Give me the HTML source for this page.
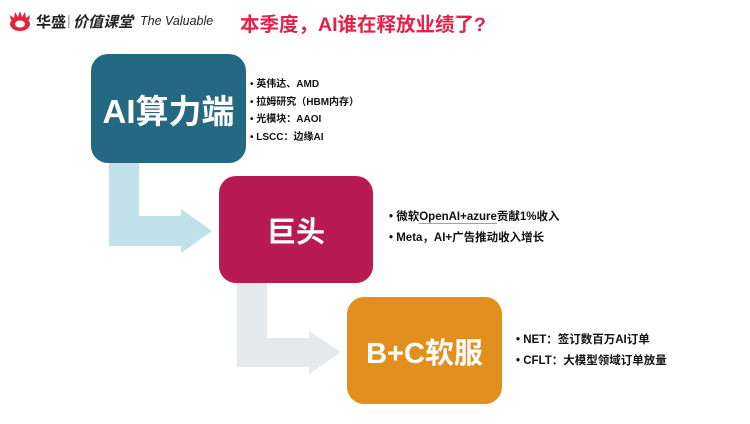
<!DOCTYPE html>
<html><head><meta charset="utf-8"><style>
body{margin:0;width:750px;height:424px;background:#fff;position:relative;overflow:hidden;font-family:"Liberation Sans","Noto Sans CJK SC",sans-serif;}
.a{position:absolute;white-space:nowrap;}
.box{position:absolute;border-radius:17px;color:#fff;font-weight:bold;display:flex;align-items:center;justify-content:center;}
.li{font-size:10px;font-weight:bold;color:#111;}
.li2{font-size:11.5px;font-weight:bold;color:#111;}
</style></head><body>
<svg class="a" style="left:0;top:0" width="750" height="424">
<g fill="#e3243b">
<path d="M10 24 A10 7 0 1 0 30 24 A10 7 0 1 0 10 24 Z M15 24 A5 3.5 0 1 1 25 24 A5 3.5 0 1 1 15 24 Z" fill-rule="evenodd"/>
<path d="M11 20 L10 15 L14 18 L15 12 L18 17 L20 11 L22 17 L25 12 L26 18 L30 15 L29 20 Z"/>
</g>
<polygon fill="#c2e0ea" points="109,162 139,162 139,216 181,216 181,209 212,231 181,253 181,246 109,246"/>
<polygon fill="#e6e9ec" points="237,283 267,283 267,338 309,338 309,331 341,352 309,374 309,367 237,367"/>
</svg>
<div class="a" style="left:36px;top:11px;font-size:15px;font-weight:bold;color:#222;">华盛</div>
<div class="a" style="left:67px;top:12px;font-size:14px;color:#999;">|</div>
<div class="a" style="left:73px;top:11px;font-size:15px;font-weight:bold;font-style:italic;color:#222;">价值课堂</div>
<div class="a" style="left:140px;top:14px;font-size:12.5px;font-style:italic;color:#222;">The Valuable</div>
<div class="a" style="left:240px;top:8px;font-size:19.5px;font-weight:bold;color:#e3204b;">本季度，AI谁在释放业绩了?</div>

<div class="box" style="left:91px;top:54px;width:155px;height:109px;background:#256882;font-size:33px;">AI算力端</div>
<div class="box" style="left:219px;top:176px;width:154px;height:107px;background:#b81b52;font-size:29px;">巨头</div>
<div class="box" style="left:347px;top:297px;width:155px;height:107px;background:#e38f1f;font-size:29px;">B+C软服</div>

<div class="a li" style="left:250px;top:75px;">• 英伟达、AMD</div>
<div class="a li" style="left:250px;top:93px;">• 拉姆研究（HBM内存）</div>
<div class="a li" style="left:250px;top:110px;">• 光模块：AAOI</div>
<div class="a li" style="left:250px;top:128px;">• LSCC：边缘AI</div>

<div class="a li2" style="left:389px;top:208px;">• 微软<span style="border-bottom:1px solid #f08080">OpenAI+azure</span>贡献1%收入</div>
<div class="a li2" style="left:389px;top:229px;">• Meta，AI+广告推动收入增长</div>

<div class="a li2" style="left:516px;top:331px;">• NET：签订数百万AI订单</div>
<div class="a li2" style="left:516px;top:352px;">• CFLT：大模型领域订单放量</div>
</body></html>
